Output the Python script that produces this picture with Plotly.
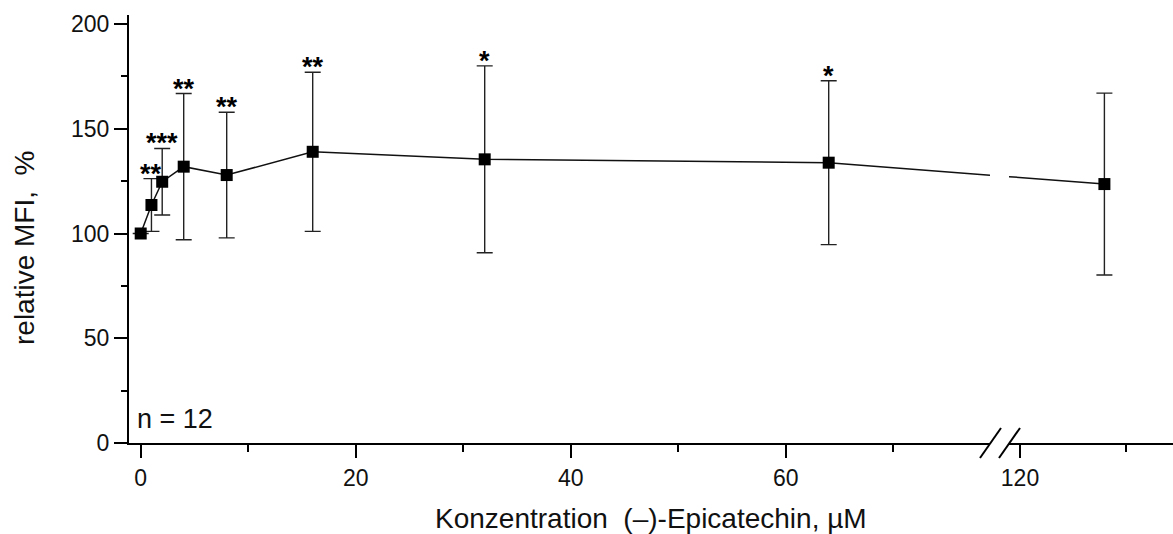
import plotly.graph_objects as go

# ---------------- data ----------------
conc = [0, 1, 2, 4, 8, 16, 32, 64, 128]
mfi = [100.0, 113.6, 124.7, 131.9, 127.9, 139.0, 135.4, 133.8, 123.6]
sd = [0.0, 12.6, 15.9, 34.9, 30.0, 38.0, 44.6, 39.1, 43.4]
stars = ["", "**", "***", "**", "**", "**", "*", "*", ""]
x_ticks_left = [0, 20, 40, 60]
x_minor_left = [10, 30, 50, 70]
x_ticks_right = [120]
x_minor_right = [130]
y_ticks = [0, 50, 100, 150, 200]
y_minor = [25, 75, 125, 175]

# ---------------- geometry ----------------
W, H = 1173, 534
ML, MT, MB, MR = 129, 15, 91, 0
PW, PH = W - ML - MR, H - MT - MB
BASE = H - MB
LEFT_END_PX, RIGHT_START_PX = 990, 1009
PX0, SX1 = 140.7, 10.75      # pixel of x=0, px/unit (left segment)
PX120, SX2 = 1020.0, 10.55   # pixel of x=120, px/unit (right segment)
x1_range = [(ML - PX0) / SX1, (LEFT_END_PX - PX0) / SX1]
x2_range = [120 + (RIGHT_START_PX - PX120) / SX2, 120 + (W - MR - PX120) / SX2]
y_range = [0, PH / 2.095]

FONT = "Liberation Sans, Arial, sans-serif"
INK = "#111111"


def to_px(x):
    return PX0 + x * SX1 if x <= x1_range[1] else PX120 + (x - 120) * SX2


def px_to_paper_x(p):
    return (p - ML) / PW


def px_to_paper_y(p):
    return (BASE - p) / PH


left_idx = [i for i, c in enumerate(conc) if c <= x1_range[1]]
right_idx = [i for i, c in enumerate(conc) if c >= x2_range[0]]
ia, ib = left_idx[-1], right_idx[0]
pa, pb = to_px(conc[ia]), to_px(conc[ib])


def y_at(p):
    return mfi[ia] + (p - pa) / (pb - pa) * (mfi[ib] - mfi[ia])


fig = go.Figure()

# connecting line, left part (through break edge)
fig.add_trace(go.Scatter(
    x=[conc[i] for i in left_idx] + [x1_range[1]],
    y=[mfi[i] for i in left_idx] + [y_at(LEFT_END_PX)],
    mode="lines", line=dict(color=INK, width=1.5),
    xaxis="x", yaxis="y", hoverinfo="skip", showlegend=False))
# right part
fig.add_trace(go.Scatter(
    x=[x2_range[0]] + [conc[i] for i in right_idx],
    y=[y_at(RIGHT_START_PX)] + [mfi[i] for i in right_idx],
    mode="lines", line=dict(color=INK, width=1.5),
    xaxis="x2", yaxis="y", hoverinfo="skip", showlegend=False))

err_style = dict(type="data", visible=True, color="#222222", thickness=1.4, width=8)
fig.add_trace(go.Scatter(
    x=[conc[i] for i in left_idx], y=[mfi[i] for i in left_idx],
    error_y=dict(array=[sd[i] for i in left_idx], **err_style),
    mode="markers", marker=dict(symbol="square", size=12, color="black"),
    xaxis="x", yaxis="y", showlegend=False, cliponaxis=False))
fig.add_trace(go.Scatter(
    x=[conc[i] for i in right_idx], y=[mfi[i] for i in right_idx],
    error_y=dict(array=[sd[i] for i in right_idx], **err_style),
    mode="markers", marker=dict(symbol="square", size=12, color="black"),
    xaxis="x2", yaxis="y", showlegend=False, cliponaxis=False))

annotations = []
for i, s in enumerate(stars):
    if not s:
        continue
    annotations.append(dict(
        x=conc[i], y=mfi[i] + sd[i], xref="x" if i in left_idx else "x2", yref="y",
        text="<b>" + s + "</b>", showarrow=False, yanchor="bottom", xanchor="center",
        yshift=-12, font=dict(family=FONT, size=27, color="black")))

annotations.append(dict(x=px_to_paper_x(135), y=px_to_paper_y(419), xref="paper", yref="paper",
                        text="n = 12", showarrow=False, xanchor="left", yanchor="middle",
                        font=dict(family=FONT, size=27, color=INK)))
annotations.append(dict(x=px_to_paper_x(651), y=px_to_paper_y(518), xref="paper", yref="paper",
                        text="Konzentration  (\u2013)-Epicatechin, \u00b5M", showarrow=False,
                        xanchor="center", yanchor="middle",
                        font=dict(family=FONT, size=28, color=INK)))
annotations.append(dict(x=px_to_paper_x(24), y=px_to_paper_y(248), xref="paper", yref="paper",
                        text="relative MFI,  %", showarrow=False, textangle=-90,
                        xanchor="center", yanchor="middle",
                        font=dict(family=FONT, size=28, color=INK)))

shapes = []
for (x0, y0, x1, y1) in [(980, 458, 1001, 428), (999, 458, 1020, 428)]:
    shapes.append(dict(type="line", xref="paper", yref="paper",
                       x0=px_to_paper_x(x0), y0=px_to_paper_y(y0),
                       x1=px_to_paper_x(x1), y1=px_to_paper_y(y1),
                       line=dict(color="black", width=2)))

axis_common = dict(showline=True, linecolor="black", linewidth=2, ticks="outside",
                   ticklen=13, tickwidth=2, tickcolor="black", showgrid=False, zeroline=False,
                   tickfont=dict(family=FONT, size=23, color=INK), tickmode="array")

fig.update_layout(
    width=W, height=H, margin=dict(l=ML, r=MR, t=MT, b=MB, pad=0),
    paper_bgcolor="white", plot_bgcolor="white",
    xaxis=dict(domain=[0, px_to_paper_x(LEFT_END_PX)], range=x1_range, anchor="y",
               tickvals=x_ticks_left,
               minor=dict(tickvals=x_minor_left, ticklen=7, tickwidth=2, tickcolor="black",
                          ticks="outside", showgrid=False),
               **axis_common),
    xaxis2=dict(domain=[px_to_paper_x(RIGHT_START_PX), 1], range=x2_range, anchor="y",
                tickvals=x_ticks_right,
                minor=dict(tickvals=x_minor_right, ticklen=7, tickwidth=2, tickcolor="black",
                           ticks="outside", showgrid=False),
                **axis_common),
    yaxis=dict(domain=[0, 1], range=y_range, anchor="x", tickvals=y_ticks,
               minor=dict(tickvals=y_minor, ticklen=6, tickwidth=2, tickcolor="black",
                          ticks="outside", showgrid=False),
               **axis_common),
    annotations=annotations, shapes=shapes, showlegend=False,
)

fig.write_html("out.html")
